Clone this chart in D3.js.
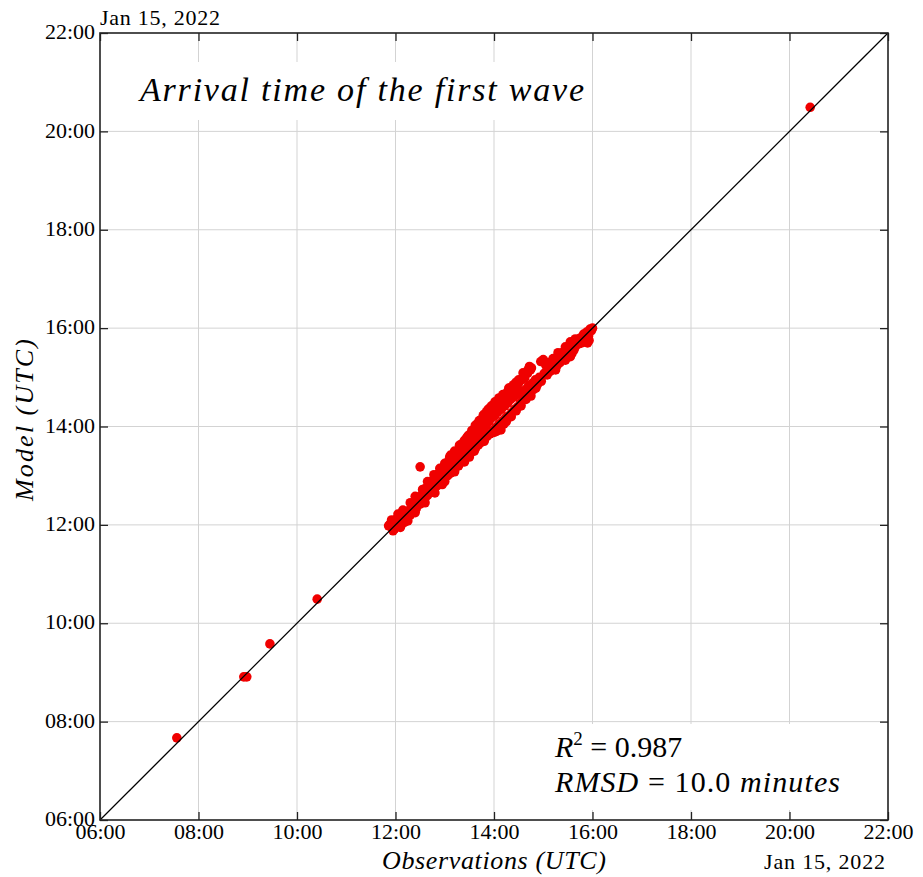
<!DOCTYPE html>
<html>
<head>
<meta charset="utf-8">
<script src="https://cdn.jsdelivr.net/npm/d3@7"></script>
<style>
  html, body { margin: 0; padding: 0; background: #fff; }
  svg { display: block; }
  text { font-family: "Liberation Serif", "DejaVu Serif", serif; fill: #000; }
</style>
</head>
<body>
<svg id="chart" width="923" height="877"></svg>
<script>
// ---- Data (hours UTC, Jan 15 2022) ----
const tickHours = [6, 8, 10, 12, 14, 16, 18, 20, 22];
const tickLabels = ["06:00", "08:00", "10:00", "12:00", "14:00", "16:00", "18:00", "20:00", "22:00"];
const dateLabel = "Jan 15, 2022";
const titleText = "Arrival time of the first wave";
const xLabelText = "Observations (UTC)";
const yLabelText = "Model (UTC)";
const r2Value = "0.987";
const rmsdValue = "10.0";

const observedHours = [
  7.56, 8.92, 8.98, 9.45, 10.41, 12.50, 20.42,
  11.88, 11.90, 11.93, 11.95, 11.98, 12.00, 12.02, 12.05, 12.08, 12.10, 12.12, 12.15, 12.18, 12.20, 12.22, 12.25, 12.28, 12.30, 12.33, 12.35, 12.38, 12.40, 12.42, 12.45, 12.48, 12.50,
  12.52, 12.55, 12.58, 12.60, 12.62, 12.65, 12.68, 12.70, 12.72, 12.75, 12.78, 12.80, 12.82, 12.85, 12.88, 12.90, 12.92, 12.95, 12.98, 13.00,
  13.02, 13.04, 13.06, 13.08, 13.10, 13.12, 13.15, 13.18, 13.20, 13.22, 13.25, 13.28, 13.30, 13.32, 13.35, 13.38, 13.40, 13.42, 13.45, 13.48, 13.50,
  13.52, 13.54, 13.56, 13.58, 13.60, 13.62, 13.64, 13.66, 13.68, 13.70, 13.72, 13.74, 13.76, 13.78, 13.80, 13.82, 13.84, 13.86, 13.88, 13.90, 13.92, 13.94, 13.96, 13.98, 14.00,
  14.02, 14.04, 14.06, 14.08, 14.10, 14.12, 14.14, 14.15, 14.18, 14.20, 14.22, 14.24, 14.26, 14.28, 14.30, 14.32, 14.34, 14.36, 14.38, 14.40, 14.42, 14.44, 14.46, 14.48, 14.50,
  14.52, 14.54, 14.56, 14.58, 14.60, 14.62, 14.64, 14.66, 14.68, 14.70, 14.72, 14.74, 14.76, 14.78, 14.80, 14.84, 14.88, 14.92, 14.96, 15.00, 15.02,
  15.05, 15.08, 15.10, 15.14, 15.18, 15.20, 15.24, 15.28, 15.30, 15.34, 15.38, 15.40, 15.44, 15.48, 15.50, 15.55, 15.58, 15.60, 15.65, 15.68, 15.72, 15.75, 15.80, 15.82, 15.85, 15.88, 15.90, 15.92, 15.95, 15.98,
  11.92, 12.05, 12.15, 12.30, 12.40, 12.55, 12.10, 12.25, 12.40, 12.60, 12.80, 13.00,
  12.65, 12.78, 12.90, 13.00, 13.10, 13.20, 13.30, 13.40, 13.48,
  13.55, 13.62, 13.70, 13.78, 13.85, 13.92, 14.00, 14.08, 14.15, 14.25, 14.35, 14.45,
  13.60, 13.75, 13.90, 14.05, 14.20, 14.35,
  13.20, 13.40, 13.60, 13.80, 14.00, 14.25, 14.45, 14.65, 14.85,
  14.59, 14.69, 14.72, 14.95, 15.10, 15.20, 15.30, 15.45, 15.55, 15.65,
  15.25, 15.45, 15.62, 15.78, 15.88, 16.00, 15.93,
  13.12, 13.35, 13.45, 13.65, 13.80, 13.88, 13.95, 14.02, 14.10, 14.18, 14.30, 14.40, 14.50, 14.60,
  11.86, 11.95, 12.95, 13.50, 14.05, 14.20, 14.35, 14.55, 14.75
];
const modelHours = [
  7.67, 8.91, 8.91, 9.58, 10.49, 13.18, 20.49,
  12.00, 12.02, 11.95, 12.08, 11.92, 12.05, 12.12, 11.98, 12.15, 12.02, 12.20, 12.08, 12.05, 12.25, 12.12, 12.18, 12.30, 12.20, 12.25, 12.38, 12.28, 12.45, 12.33, 12.40, 12.55, 12.42,
  12.60, 12.48, 12.70, 12.55, 12.75, 12.60, 12.82, 12.65, 12.88, 12.70, 12.92, 12.75, 12.95, 12.80, 13.05, 12.85, 13.08, 12.90, 13.15, 12.95,
  13.10, 13.25, 13.00, 13.30, 13.15, 13.05, 13.35, 13.22, 13.12, 13.42, 13.30, 13.20, 13.55, 13.40, 13.28, 13.60, 13.48, 13.35, 13.70, 13.55, 13.42,
  13.80, 13.62, 13.50, 13.90, 13.72, 13.55, 13.98, 13.80, 13.62, 14.05, 13.88, 13.68, 14.12, 13.95, 13.72, 14.20, 14.02, 13.80, 14.28, 14.10, 13.85, 14.35, 14.18, 13.92, 14.40,
  14.22, 13.98, 14.45, 14.30, 14.05, 14.52, 13.93, 14.35, 14.12, 14.60, 14.42, 14.18, 14.65, 14.48, 14.22, 14.72, 14.55, 14.28, 14.78, 14.60, 14.35, 14.85, 14.65, 14.40, 14.88,
  14.72, 14.48, 14.95, 14.70, 14.55, 14.98, 14.75, 14.62, 15.08, 14.82, 14.68, 15.15, 15.19, 14.88, 14.75, 14.95, 14.85, 15.00, 14.92, 15.36, 15.08,
  15.25, 15.05, 15.22, 15.12, 15.32, 15.16, 15.38, 15.24, 15.42, 15.30, 15.50, 15.36, 15.55, 15.45, 15.62, 15.42, 15.48, 15.68, 15.62, 15.72, 15.68, 15.80, 15.76, 15.88, 15.78, 15.92, 15.70, 15.84, 15.98, 15.95,
  12.10, 12.22, 12.30, 12.45, 12.58, 12.72, 11.95, 12.08, 12.25, 12.45, 12.65, 12.88,
  12.88, 13.02, 13.15, 13.25, 13.38, 13.50, 13.62, 13.72, 13.82,
  13.92, 14.02, 14.12, 14.22, 14.30, 14.38, 14.45, 14.52, 14.58, 14.68, 14.80, 14.90,
  13.85, 14.00, 14.18, 14.35, 14.50, 14.62,
  13.08, 13.28, 13.50, 13.70, 13.88, 14.10, 14.32, 14.55, 14.78,
  15.09, 15.15, 15.22, 15.32, 15.30, 15.38, 15.50, 15.62, 15.72, 15.78,
  15.15, 15.35, 15.55, 15.70, 15.82, 16.00, 15.75,
  13.42, 13.65, 13.78, 14.05, 14.25, 14.35, 14.42, 14.50, 14.58, 14.65, 14.78, 14.85, 14.95, 15.02,
  11.98, 11.88, 12.82, 13.38, 13.90, 14.05, 14.20, 14.42, 14.62
];

// ---- Layout ----
const svg = d3.select("#chart");
const pLeft = 100, pRight = 888, pTop = 33, pBottom = 820;
const x = d3.scaleLinear().domain([6, 22]).range([pLeft, pRight]);
const y = d3.scaleLinear().domain([6, 22]).range([pBottom, pTop]);
const fmt = d => tickLabels[tickHours.indexOf(d)];

// grid
const grid = svg.append("g");
grid.selectAll("line.v").data(tickHours.slice(1, -1)).join("line").attr("class", "v")
  .attr("x1", d => x(d)).attr("x2", d => x(d)).attr("y1", pTop).attr("y2", pBottom)
  .attr("stroke", "#d3d3d3").attr("stroke-width", 1);
grid.selectAll("line.h").data(tickHours.slice(1, -1)).join("line").attr("class", "h")
  .attr("y1", d => y(d)).attr("y2", d => y(d)).attr("x1", pLeft).attr("x2", pRight)
  .attr("stroke", "#d3d3d3").attr("stroke-width", 1);

// points
const pts = observedHours.map((o, i) => [o, modelHours[i]]);
svg.append("g").selectAll("circle").data(pts).join("circle")
  .attr("cx", d => x(d[0])).attr("cy", d => y(d[1])).attr("r", 4.8)
  .attr("fill", "#f00000");

// diagonal 1:1 line (over points)
svg.append("line")
  .attr("x1", x(6)).attr("y1", y(6)).attr("x2", x(22)).attr("y2", y(22))
  .attr("stroke", "#000").attr("stroke-width", 1.3);

// text boxes (white background)
svg.append("rect").attr("x", 128).attr("y", 62).attr("width", 460).attr("height", 58).attr("fill", "#fff");
svg.append("rect").attr("x", 540).attr("y", 724).attr("width", 342).attr("height", 86).attr("fill", "#fff");

// title
svg.append("text").attr("x", 140).attr("y", 101)
  .attr("font-size", 34).attr("font-style", "italic")
  .attr("textLength", 444).attr("lengthAdjust", "spacing")
  .text(titleText);

// stats
const s1 = svg.append("text").attr("x", 555).attr("y", 757).attr("font-size", 30);
s1.append("tspan").attr("font-style", "italic").text("R");
s1.append("tspan").attr("font-size", 19).attr("dy", -12).text("2");
s1.append("tspan").attr("dy", 12).text(" = " + r2Value);
const s2 = svg.append("text").attr("x", 555).attr("y", 792).attr("font-size", 30)
  .attr("textLength", 285).attr("lengthAdjust", "spacing");
s2.append("tspan").attr("font-style", "italic").text("RMSD");
s2.append("tspan").text(" = " + rmsdValue + " ");
s2.append("tspan").attr("font-style", "italic").text("minutes");

// axes (ticks inward on all sides)
const axB = svg.append("g").attr("transform", `translate(0,${pBottom})`)
  .call(d3.axisBottom(x).tickValues(tickHours).tickFormat(fmt).tickSizeInner(-8).tickSizeOuter(0).tickPadding(3));
const axL = svg.append("g").attr("transform", `translate(${pLeft},0)`)
  .call(d3.axisLeft(y).tickValues(tickHours).tickFormat(fmt).tickSizeInner(-8).tickSizeOuter(0).tickPadding(5));
const axT = svg.append("g").attr("transform", `translate(0,${pTop})`)
  .call(d3.axisTop(x).tickValues(tickHours).tickFormat("").tickSizeInner(-8).tickSizeOuter(0));
const axR = svg.append("g").attr("transform", `translate(${pRight},0)`)
  .call(d3.axisRight(y).tickValues(tickHours).tickFormat("").tickSizeInner(-8).tickSizeOuter(0));
[axB, axL, axT, axR].forEach(g => {
  g.select(".domain").remove();
  g.selectAll("line").attr("stroke", "#222").attr("stroke-width", 1.3);
  g.selectAll("text").attr("font-family", '"Liberation Serif", "DejaVu Serif", serif').attr("font-size", 22).attr("fill", "#000");
});
axL.selectAll("text").attr("dy", "0.26em");

// frame
svg.append("rect").attr("x", pLeft).attr("y", pTop).attr("width", pRight - pLeft).attr("height", pBottom - pTop)
  .attr("fill", "none").attr("stroke", "#222").attr("stroke-width", 1.6);

// date labels
svg.append("text").attr("x", 100).attr("y", 25).attr("font-size", 22)
  .attr("textLength", 120).attr("lengthAdjust", "spacing").text(dateLabel);
svg.append("text").attr("x", 764).attr("y", 869).attr("font-size", 22)
  .attr("textLength", 121).attr("lengthAdjust", "spacing").text(dateLabel);

// axis labels
svg.append("text").attr("x", (pLeft + pRight) / 2).attr("y", 869).attr("font-size", 26)
  .attr("font-style", "italic").attr("text-anchor", "middle")
  .attr("textLength", 224).attr("lengthAdjust", "spacing").text(xLabelText);
svg.append("text").attr("transform", "translate(33,420) rotate(-90)").attr("font-size", 26)
  .attr("font-style", "italic").attr("text-anchor", "middle")
  .attr("textLength", 162).attr("lengthAdjust", "spacing").text(yLabelText);
</script>
</body>
</html>
